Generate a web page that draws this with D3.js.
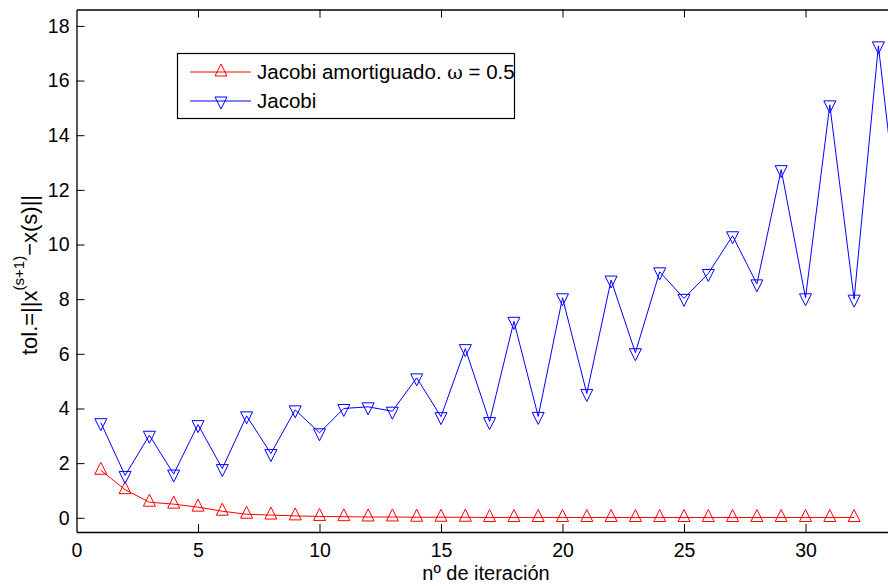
<!DOCTYPE html>
<html><head><meta charset="utf-8">
<script src="https://cdn.jsdelivr.net/npm/d3@7"></script>
<style>
body{margin:0;background:#fff}
svg{display:block}
text{font-family:"Liberation Sans",Arial,Helvetica,sans-serif;fill:#000}
</style>
</head><body>
<svg id="c" width="888" height="586"></svg>
<script>
// ---- data ----
const iterations = [1,2,3,4,5,6,7,8,9,10,11,12,13,14,15,16,17,18,19,20,21,22,23,24,25,26,27,28,29,30,31,32,33,34];
const dampedJacobi = [1.74,1.03,0.57,0.50,0.39,0.24,0.13,0.10,0.07,0.05,0.04,0.03,0.03,0.02,0.02,0.02,0.01,0.01,0.01,0.01,0.01,0.01,0.01,0.01,0.01,0.01,0.01,0.01,0.01,0.01,0.01,0.01];
const jacobi = [3.48,1.55,3.02,1.60,3.41,1.80,3.73,2.35,3.95,3.11,4.00,4.06,3.90,5.12,3.70,6.19,3.52,7.19,3.71,8.05,4.55,8.70,6.04,9.00,8.03,8.94,10.32,8.56,12.74,8.05,15.11,8.00,17.27,9.5];
const seriesNames = ["Jacobi amortiguado. ", "Jacobi"];
const xTicks = [0,5,10,15,20,25,30];
const yTicks = [0,2,4,6,8,10,12,14,16,18];
const xLabel = "nº de iteración";

// ---- layout ----
const svg = d3.select("#c");
const L = 76.5, T = 9.5, B = 532;
const x = d3.scaleLinear().domain([0,35]).range([L, L + 35*24.3]);
const y = d3.scaleLinear().domain([-0.52,18.6]).range([B, T]);
const RED = "#ff0000", BLUE = "#0000ff";

// axes
const gx = svg.append("g").attr("transform",`translate(0,${B})`)
  .call(d3.axisBottom(x).tickValues(xTicks).tickSizeInner(-8).tickSizeOuter(0).tickPadding(11));
const gt = svg.append("g").attr("transform",`translate(0,${T})`)
  .call(d3.axisTop(x).tickValues(xTicks).tickSizeInner(-8).tickSizeOuter(0).tickFormat(""));
const gy = svg.append("g").attr("transform",`translate(${L},0)`)
  .call(d3.axisLeft(y).tickValues(yTicks).tickSizeInner(-8).tickSizeOuter(0).tickPadding(7));
[gx,gt,gy].forEach(g=>{
  g.selectAll("path.domain").attr("stroke","#000").attr("stroke-width",1.3);
  g.selectAll(".tick line").attr("stroke","#000").attr("stroke-width",1);
  g.selectAll(".tick text").attr("font-size","19.5px").attr("font-family",'"Liberation Sans",Arial,sans-serif').attr("fill","#000");
});
gt.selectAll(".tick").filter(d=>d===0).remove();
gx.selectAll(".tick line").filter(d=>d===0).remove();

// markers
const upTri = "M0,-8L6,4L-6,4Z";
const downTri = "M0,8L6,-4L-6,-4Z";

const line = d3.line().x(d=>x(d[0])).y(d=>y(d[1]));
const redPts = dampedJacobi.map((v,i)=>[iterations[i],v]);
const bluePts = jacobi.map((v,i)=>[iterations[i],v]);

svg.append("path").datum(redPts).attr("d",line).attr("fill","none").attr("stroke",RED).attr("stroke-width",1);
svg.append("g").selectAll("path").data(redPts).join("path")
  .attr("transform",d=>`translate(${x(d[0])},${y(d[1])})`).attr("d",upTri)
  .attr("fill","none").attr("stroke",RED).attr("stroke-width",1);

svg.append("path").datum(bluePts).attr("d",line).attr("fill","none").attr("stroke",BLUE).attr("stroke-width",1);
svg.append("g").selectAll("path").data(bluePts).join("path")
  .attr("transform",d=>`translate(${x(d[0])},${y(d[1])})`).attr("d",downTri)
  .attr("fill","none").attr("stroke",BLUE).attr("stroke-width",1);

// legend
const lg = svg.append("g");
lg.append("rect").attr("x",177.5).attr("y",53.5).attr("width",337).attr("height",65)
  .attr("fill","#fff").attr("stroke","#000").attr("stroke-width",1.2);
const rows = [{c:RED,m:upTri,y:72},{c:BLUE,m:downTri,y:101}];
rows.forEach((r,i)=>{
  lg.append("line").attr("x1",190).attr("x2",251).attr("y1",r.y).attr("y2",r.y).attr("stroke",r.c).attr("stroke-width",1);
  lg.append("path").attr("transform",`translate(221,${r.y})`).attr("d",r.m).attr("fill","none").attr("stroke",r.c);
  const t = lg.append("text").attr("x",257).attr("y",r.y+7).attr("font-size","20.5px");
  t.append("tspan").text(seriesNames[i]);
  if(i===0){
    t.append("tspan").attr("font-family",'"DejaVu Serif","Liberation Serif",serif').attr("font-size","19px").text("ω");
    t.append("tspan").text(" = 0.5");
  }
});

// x label
svg.append("text").attr("x",486).attr("y",580).attr("text-anchor","middle").attr("font-size","20px").text(xLabel);

// y label
const yl = svg.append("text").attr("transform","translate(37,275) rotate(-90)").attr("text-anchor","middle").attr("font-size","22px");
yl.append("tspan").text("tol.=||x");
yl.append("tspan").attr("font-size","15px").attr("dy",-13).text("(s+1)");
yl.append("tspan").attr("dy",13).text("−x(s)||");
</script>
</body></html>
